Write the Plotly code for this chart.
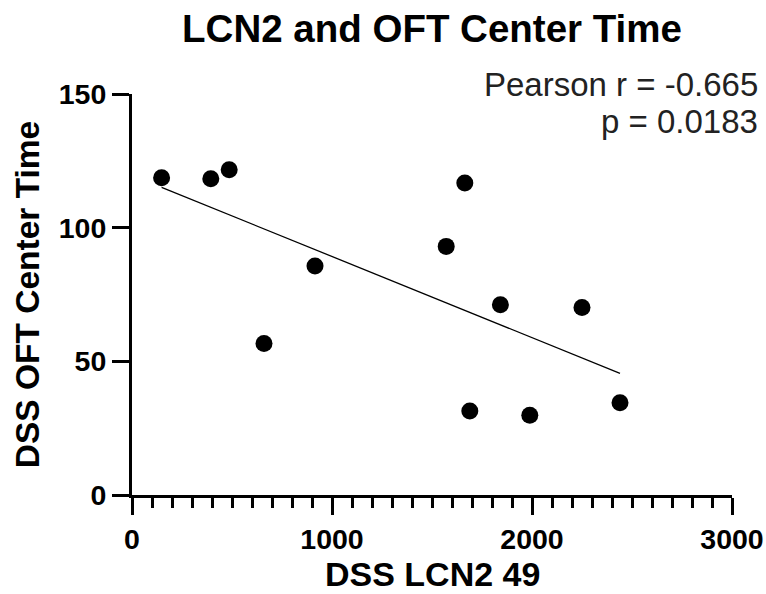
import numpy as np
import plotly.graph_objects as go

# Data
lcn2 = [148, 394, 486, 660, 915, 1571, 1664, 1689, 1842, 1989, 2250, 2440]
center_time = [118.7, 118.3, 121.7, 56.7, 85.7, 93.0, 116.7, 31.4, 71.2, 29.8, 70.1, 34.5]

x_ticks = [0, 1000, 2000, 3000]
y_ticks = [0, 50, 100, 150]

title_text = "LCN2 and OFT Center Time"
x_title = "DSS LCN2 49"
y_title = "DSS OFT Center Time"
stats_lines = ["Pearson r = -0.665", "p = 0.0183"]

FONT = "Liberation Sans, Arial, sans-serif"

x = np.array(lcn2, dtype=float)
y = np.array(center_time, dtype=float)
slope, intercept = np.polyfit(x, y, 1)
fit_x = np.array([x.min(), x.max()])
fit_y = slope * fit_x + intercept

fig = go.Figure()
fig.add_trace(go.Scatter(
    x=fit_x, y=fit_y, mode="lines",
    line=dict(color="black", width=1.3),
    showlegend=False, hoverinfo="skip",
))
fig.add_trace(go.Scatter(
    x=lcn2, y=center_time, mode="markers",
    marker=dict(color="black", size=17, line=dict(width=0)),
    showlegend=False,
))

fig.update_layout(
    width=766, height=594,
    margin=dict(l=132, r=34, t=94, b=99, autoexpand=False),
    paper_bgcolor="white", plot_bgcolor="white",
    font=dict(family=FONT, color="black"),
    title=dict(
        text="<b>" + title_text + "</b>",
        x=0.5, xref="paper", xanchor="center",
        y=1 - 29 / 594, yref="container", yanchor="middle",
        font=dict(size=38.5, family=FONT, color="black"),
    ),
    xaxis=dict(
        range=[0, 3000], tickvals=x_ticks,
        ticktext=["<b>%d</b>" % v for v in x_ticks],
        showline=True, linecolor="black", linewidth=3,
        ticks="outside", ticklen=17, tickwidth=3, tickcolor="black",
        minor=dict(dtick=100, ticks="outside", ticklen=10, tickwidth=2.5,
                   tickcolor="black", showgrid=False),
        showgrid=False, zeroline=False,
        tickfont=dict(size=28.5, family=FONT, color="black"),
        automargin=False,
    ),
    yaxis=dict(
        range=[0, 150], tickvals=y_ticks,
        ticktext=["<b>%d</b>" % v for v in y_ticks],
        showline=True, linecolor="black", linewidth=3,
        ticks="outside", ticklen=17, tickwidth=3, tickcolor="black",
        showgrid=False, zeroline=False,
        tickfont=dict(size=28.5, family=FONT, color="black"),
        title=dict(text="<b>" + y_title + "</b>",
                   font=dict(size=33.5, family=FONT, color="black"),
                   standoff=10),
        automargin=False,
    ),
)

# x-axis title placed as a text annotation below the tick labels
fig.add_annotation(
    text="<b>" + x_title + "</b>", xref="paper", yref="paper",
    x=0.5, y=(495 - 593.5) / 401,
    xanchor="center", yanchor="bottom", showarrow=False, borderpad=0,
    font=dict(size=34, family=FONT, color="black"),
)

fig.add_annotation(
    text=stats_lines[0], xref="paper", yref="paper",
    x=(760 - 132) / 600, y=(495 - 84) / 401,
    xanchor="right", yanchor="middle", showarrow=False,
    font=dict(size=33, family=FONT, color="#222222"),
)
fig.add_annotation(
    text=stats_lines[1], xref="paper", yref="paper",
    x=(760 - 132) / 600, y=(495 - 121) / 401,
    xanchor="right", yanchor="middle", showarrow=False,
    font=dict(size=33, family=FONT, color="#222222"),
)

fig.write_html("out.html")
